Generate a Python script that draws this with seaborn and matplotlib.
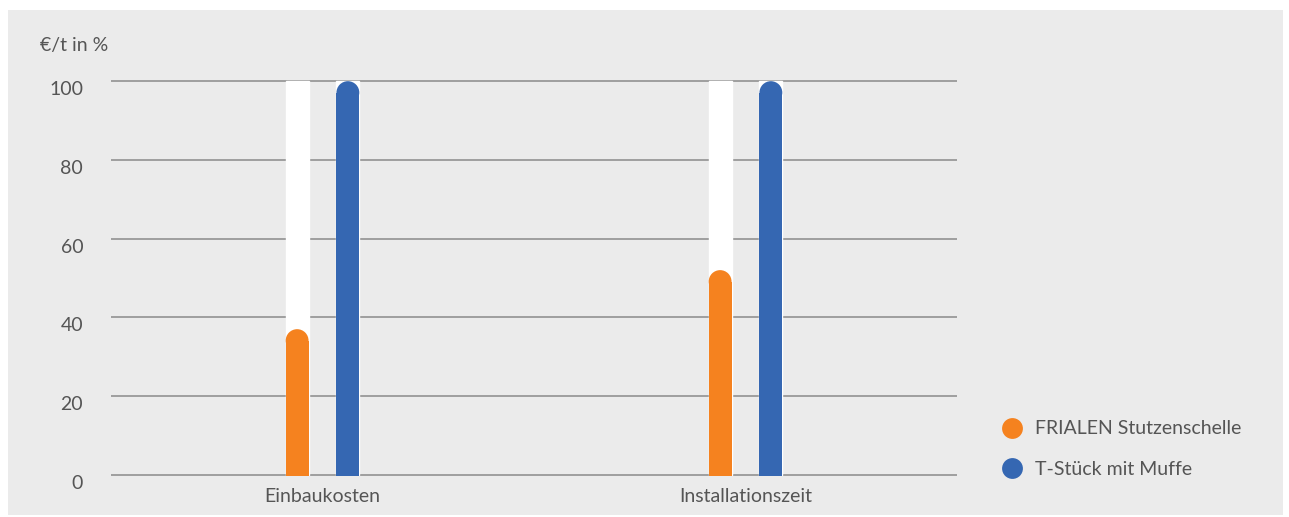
import numpy as np
import pandas as pd
import matplotlib
matplotlib.use("Agg")
import matplotlib.pyplot as plt
from matplotlib.patches import Rectangle, Ellipse
from matplotlib.lines import Line2D
from matplotlib.transforms import ScaledTranslation
import seaborn as sns

# Daten
kategorien = ["Einbaukosten", "Installationszeit"]
serien = ["FRIALEN Stutzenschelle", "T-Stück mit Muffe"]
frialen = [37, 52]
tstueck = [100, 100]
yticks = [0, 20, 40, 60, 80, 100]
farben = ["#F5821F", "#3567B2"]

df = pd.DataFrame({
    "kategorie": kategorien * 2,
    "serie": [serien[0]] * 2 + [serien[1]] * 2,
    "wert": frialen + tstueck,
})
df_track = df.copy()
df_track["wert"] = 100

sns.set_style("white")
plt.rcParams["font.family"] = ["Lato", "DejaVu Sans"]
bg = "#EBEBEB"
txt = "#555555"
fs = 14

fig = plt.figure(figsize=(12.89, 5.17), dpi=100)
fig.patch.set_facecolor("white")
fig.patches.append(Rectangle((8 / 1289, 2 / 517), 1275 / 1289, 505 / 517,
                             transform=fig.transFigure, facecolor=bg,
                             edgecolor="none", zorder=-10))

ax = fig.add_axes([111 / 1289, 41 / 517, 846 / 1289, 396 / 517])
ax.set_facecolor(bg)

# weiße Spur hinter den Balken
sns.barplot(data=df_track, x="kategorie", y="wert", hue="serie",
            palette=["white", "white"], width=0.24, gap=0.55, saturation=1,
            legend=False, ax=ax, zorder=2)
n_track = len(ax.patches)
sns.barplot(data=df, x="kategorie", y="wert", hue="serie",
            palette=farben, width=0.24, gap=0.55, saturation=1,
            legend=False, ax=ax, zorder=3)

ax.set_xlim(-0.5, 1.5)
ax.set_ylim(-0.3, 100.3)
fig.canvas.draw()

# abgerundete Balkenköpfe
px_x = ax.transData.transform([(1, 0)])[0][0] - ax.transData.transform([(0, 0)])[0][0]
px_y = ax.transData.transform([(0, 1)])[0][1] - ax.transData.transform([(0, 0)])[0][1]
for p in list(ax.patches)[n_track:]:
    x, w, h = p.get_x(), p.get_width(), p.get_height()
    ry = (w / 2) * px_x / px_y
    p.set_y(-1)
    p.set_height(h - ry + 1)
    p.set_edgecolor("none")
    ax.add_patch(Ellipse((x + w / 2, h - ry), w, 2 * ry,
                         facecolor=p.get_facecolor(), edgecolor="none", zorder=3))

ax.set_yticks(yticks)
ax.yaxis.grid(True, color="#8a8a8a", linewidth=1.1, zorder=1)
ax.set_axisbelow(True)
for s in ax.spines.values():
    s.set_visible(False)
ax.tick_params(axis="both", length=0, colors=txt, labelsize=fs)
ax.tick_params(axis="y", pad=20)
ax.tick_params(axis="x", pad=9)
ax.set_xlabel("")
ax.set_ylabel("")
for lab in ax.get_yticklabels():
    lab.set_transform(lab.get_transform() + ScaledTranslation(0, -7 / 100, fig.dpi_scale_trans))

fig.text(40 / 1289, 1 - 45 / 517, "€/t in %", color=txt, fontsize=fs, va="center", ha="left")

handles = [Line2D([0], [0], marker="o", linestyle="none", markersize=15,
                  markerfacecolor=c, markeredgecolor="none") for c in farben]
fig.legend(handles, serien, loc="center left",
           bbox_to_anchor=(991 / 1289, 1 - 449 / 517), frameon=False,
           fontsize=fs, labelcolor=txt, handletextpad=0.55, labelspacing=1.2,
           borderpad=0, handlelength=1.2)

fig.savefig("out.png", dpi=100)
